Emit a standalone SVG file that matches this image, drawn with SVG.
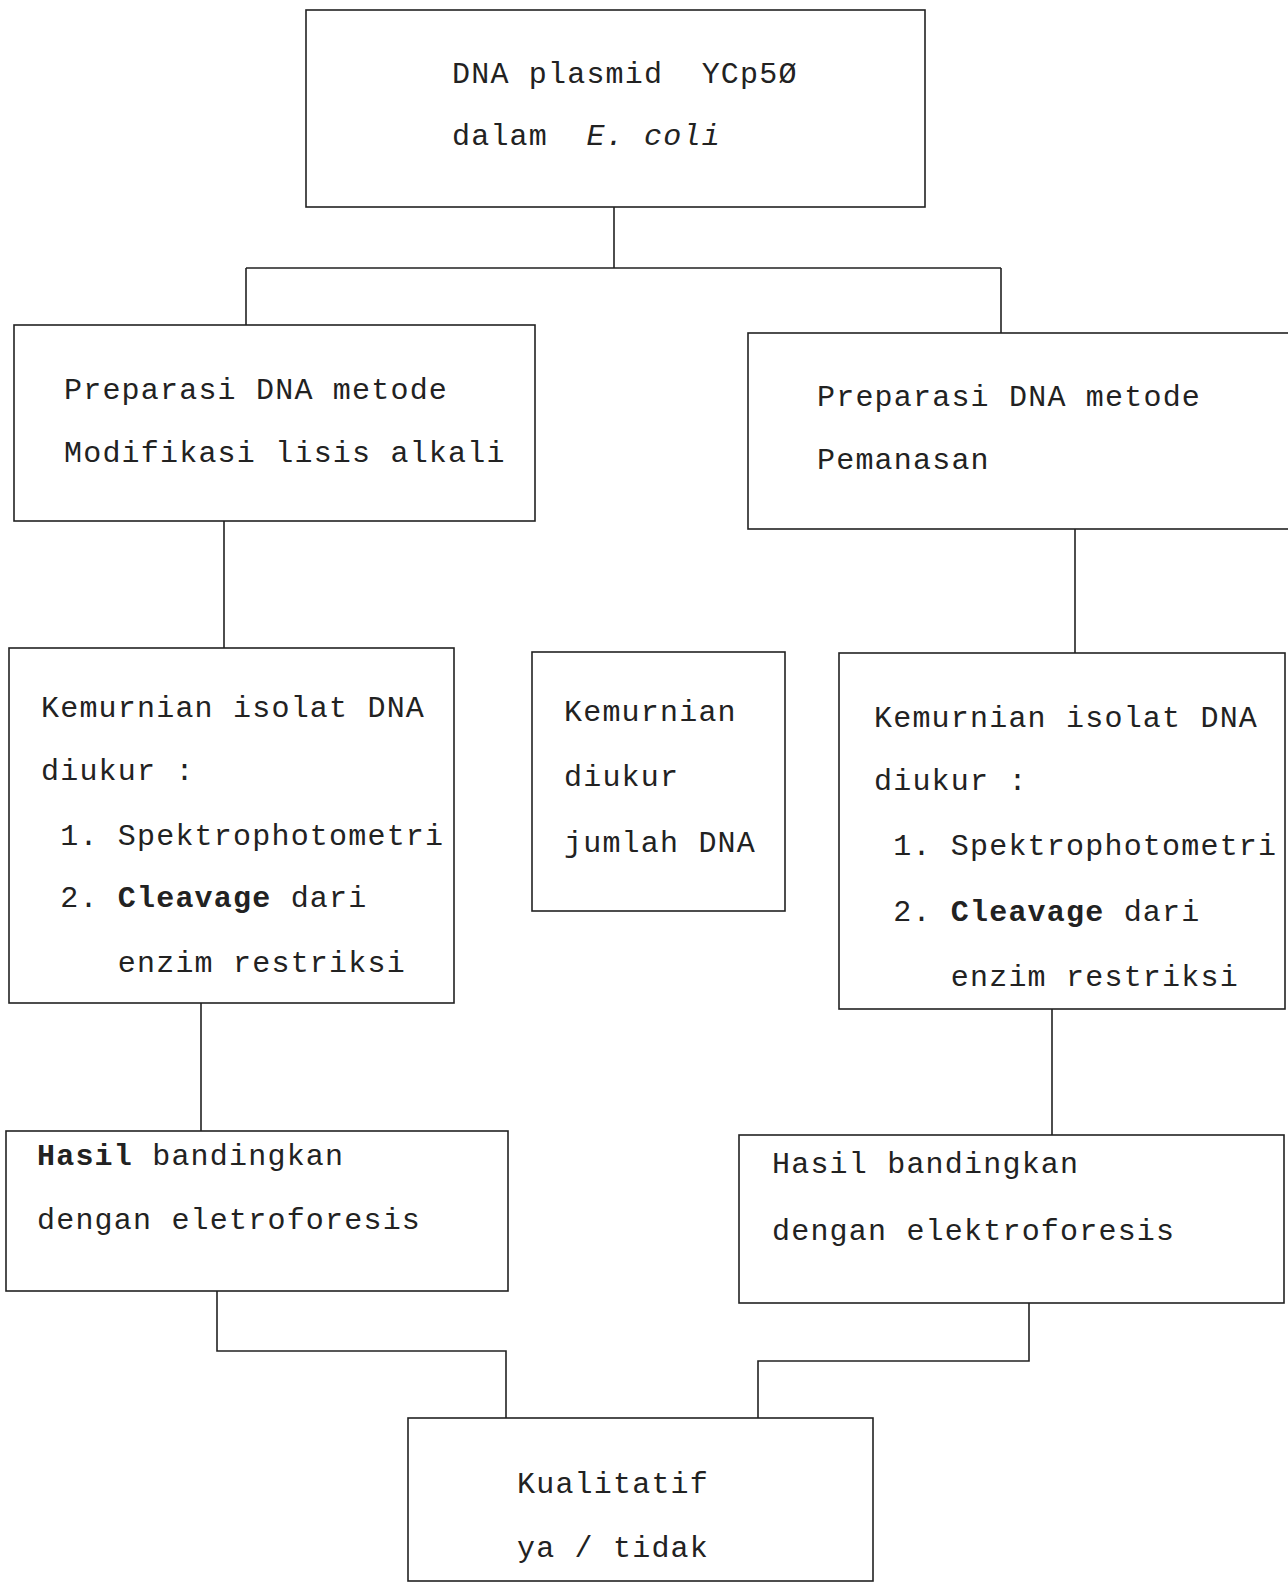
<svg xmlns="http://www.w3.org/2000/svg" width="1288" height="1584" viewBox="0 0 1288 1584">
<style>
.box{fill:none;stroke:#222;stroke-width:1.6}
.ln{fill:none;stroke:#222;stroke-width:1.6}
text{font-family:"Liberation Mono","DejaVu Sans Mono",monospace;font-size:30px;letter-spacing:1.2px;fill:#222;white-space:pre}
.b{font-weight:bold}
.i{font-style:italic}
</style>
<rect width="1288" height="1584" fill="#fff"/>
<g id="connectors">
<path class="ln" d="M614 207 V268 M246 268 H1001 M246 268 V325 M1001 268 V333"/>
<path class="ln" d="M224 521 V648 M1075 529 V653"/>
<path class="ln" d="M201 1003 V1131 M1052 1009 V1135"/>
<path class="ln" d="M217 1291 V1351 H506 V1418 M1029 1303 V1361 H758 V1418"/>
</g>
<g id="n1">
<rect class="box" x="306" y="10" width="619" height="197"/>
<text x="452" y="83" xml:space="preserve">DNA plasmid  YCp5Ø</text>
<text x="452" y="145" xml:space="preserve">dalam  <tspan class="i">E. coli</tspan></text>
</g>
<g id="n2">
<rect class="box" x="14" y="325" width="521" height="196"/>
<text x="64" y="399">Preparasi DNA metode</text>
<text x="64" y="462">Modifikasi lisis alkali</text>
</g>
<g id="n3">
<rect class="box" x="748" y="333" width="545" height="196"/>
<text x="817" y="406">Preparasi DNA metode</text>
<text x="817" y="469">Pemanasan</text>
</g>
<g id="n4">
<rect class="box" x="9" y="648" width="445" height="355"/>
<text x="41" y="717">Kemurnian isolat DNA</text>
<text x="41" y="780" xml:space="preserve">diukur :</text>
<text x="41" y="845" xml:space="preserve"> 1. Spektrophotometri</text>
<text x="41" y="907" xml:space="preserve"> 2. <tspan class="b">Cleavage</tspan> dari</text>
<text x="41" y="972" xml:space="preserve">    enzim restriksi</text>
</g>
<g id="n5">
<rect class="box" x="532" y="652" width="253" height="259"/>
<text x="564" y="721">Kemurnian</text>
<text x="564" y="786">diukur</text>
<text x="564" y="852">jumlah DNA</text>
</g>
<g id="n6">
<rect class="box" x="839" y="653" width="446" height="356"/>
<text x="874" y="727">Kemurnian isolat DNA</text>
<text x="874" y="790" xml:space="preserve">diukur :</text>
<text x="874" y="855" xml:space="preserve"> 1. Spektrophotometri</text>
<text x="874" y="921" xml:space="preserve"> 2. <tspan class="b">Cleavage</tspan> dari</text>
<text x="874" y="986" xml:space="preserve">    enzim restriksi</text>
</g>
<g id="n7">
<rect class="box" x="6" y="1131" width="502" height="160"/>
<text x="37" y="1165" xml:space="preserve"><tspan class="b">Hasil</tspan> bandingkan</text>
<text x="37" y="1229">dengan eletroforesis</text>
</g>
<g id="n8">
<rect class="box" x="739" y="1135" width="545" height="168"/>
<text x="772" y="1173">Hasil bandingkan</text>
<text x="772" y="1240">dengan elektroforesis</text>
</g>
<g id="n9">
<rect class="box" x="408" y="1418" width="465" height="163"/>
<text x="517" y="1493">Kualitatif</text>
<text x="517" y="1557" xml:space="preserve">ya / tidak</text>
</g>
</svg>
